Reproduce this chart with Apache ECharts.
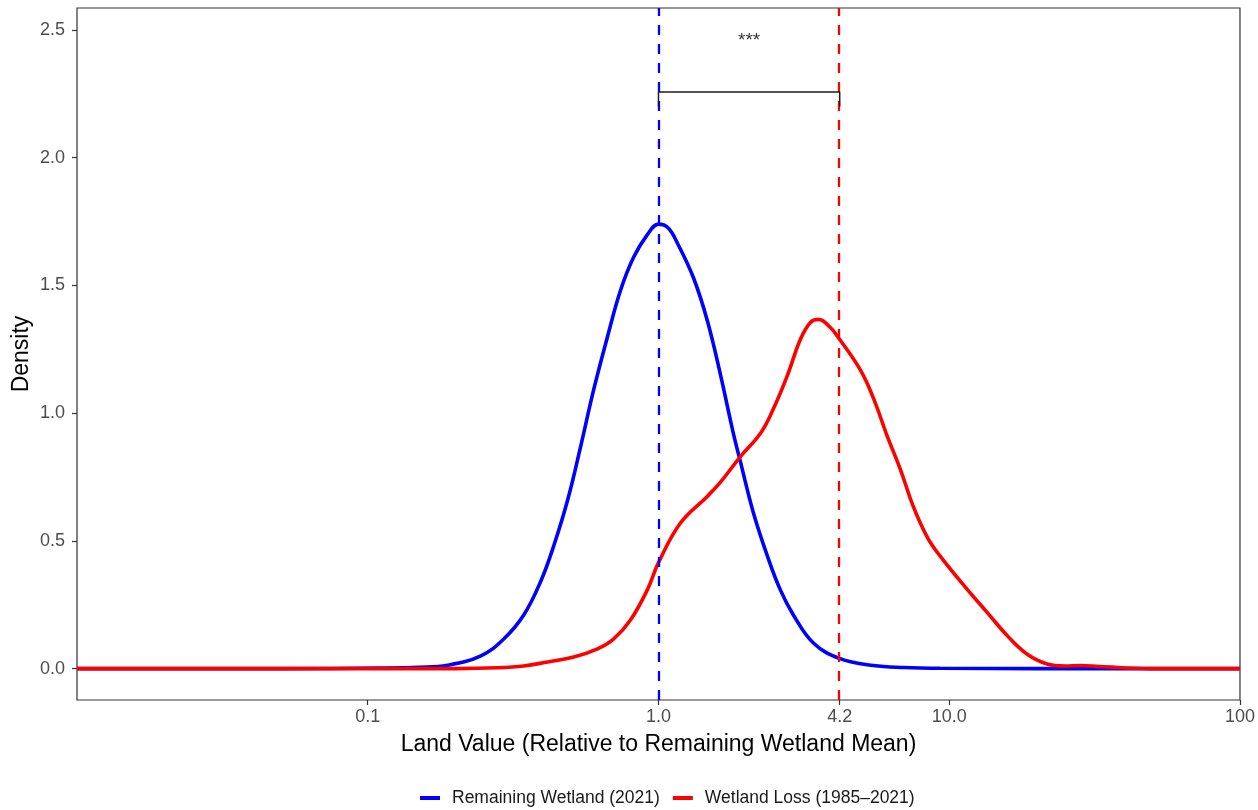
<!DOCTYPE html>
<html>
<head>
<meta charset="utf-8">
<title>Land value density</title>
<script src="https://cdn.jsdelivr.net/npm/echarts@6/dist/echarts.min.js"></script>
<style>
  html, body { margin: 0; padding: 0; background: #fff; }
  #densityChart { width: 1258px; height: 810px; }
</style>
</head>
<body>
<div id="densityChart"></div>
<script>
// land value relative to remaining wetland mean (x) and density (y)
const remainingX = [0.01, 0.05, 0.111, 0.15, 0.188, 0.245, 0.293, 0.344, 0.393, 0.436, 0.487, 0.54, 0.598, 0.668, 0.74, 0.821, 0.917, 1.0,
  1.08, 1.162, 1.319, 1.474, 1.634, 1.81, 1.913, 2.12, 2.37, 2.62, 2.91, 3.41, 4.19, 5.48, 7.0, 9.31, 20, 100]
const remainingY = [0, 0, 0.002, 0.005, 0.013, 0.05, 0.115, 0.21, 0.34, 0.48, 0.66, 0.87, 1.09, 1.3, 1.48, 1.61, 1.7, 1.74,
  1.725, 1.665, 1.53, 1.36, 1.15, 0.92, 0.81, 0.61, 0.44, 0.31, 0.21, 0.1, 0.04, 0.012, 0.004, 0.001, 0, 0]

const lossX = [0.01, 0.2, 0.28, 0.344, 0.416, 0.511, 0.617, 0.7, 0.801, 0.917, 1.0, 1.19, 1.474, 1.634, 1.913, 2.24, 2.48, 2.77,
  3.08, 3.33, 3.55, 3.9, 4.19, 4.94, 5.48, 6.12, 6.79, 7.52, 8.4, 9.31, 11.53, 13.5, 15.8, 18.5, 21.7, 25, 28.2, 33, 49, 100]
const lossY = [0, 0, 0.003, 0.01, 0.026, 0.045, 0.077, 0.115, 0.19, 0.31, 0.415, 0.57, 0.675, 0.73, 0.83, 0.92, 1.015, 1.145,
  1.29, 1.355, 1.367, 1.335, 1.29, 1.17, 1.06, 0.91, 0.78, 0.635, 0.515, 0.44, 0.31, 0.22, 0.13, 0.057, 0.018, 0.01, 0.012, 0.008, 0, 0]

// group means (dashed lines) and significance bracket
const meanRemaining = 1.0
const meanLoss = 4.2
const bracketX = [1.0, 1.0, 4.2, 4.2]
const bracketY = [2.2, 2.257, 2.257, 2.2]
const starX = 2.05
const starY = 2.458

const xTickValues = [0.1, 1.0, 4.2, 10, 100]
const xTickLabels = ['0.1', '1.0', '4.2', '10.0', '100']
const yTickValues = [0, 0.5, 1.0, 1.5, 2.0, 2.5]

const seriesNames = ['Remaining Wetland (2021)', 'Wetland Loss (1985\u20132021)']

const lg = v => Math.log10(v)
const pairs = (xs, ys) => xs.map((x, i) => [lg(x), ys[i]])

const FONT = '"Liberation Sans", Arial, Helvetica, sans-serif'

let myChart = echarts.init(document.getElementById('densityChart'))

let option = {
  animation: false,
  textStyle: { fontFamily: FONT },
  grid: {
    left: 77,
    right: 18,
    top: 8,
    bottom: 110,
    show: true,
    borderColor: '#333333',
    borderWidth: 1.2,
    backgroundColor: '#ffffff',
  },
  legend: {
    data: seriesNames,
    left: 420,
    bottom: 3,
    padding: 0,
    icon: 'rect',
    itemWidth: 20,
    itemHeight: 4,
    itemGap: 13,
    textStyle: { fontFamily: FONT, fontSize: 17.5, color: '#1a1a1a', padding: [0, 0, 0, 7] },
  },
  xAxis: {
    type: 'value',
    min: -2,
    max: 2,
    name: 'Land Value (Relative to Remaining Wetland Mean)',
    nameLocation: 'middle',
    nameGap: 33,
    nameMoveOverlap: false,
    nameTextStyle: { fontFamily: FONT, fontSize: 23, color: '#000000' },
    axisLine: { show: false, onZero: false },
    splitLine: { show: false },
    axisTick: {
      show: true,
      length: 5,
      customValues: xTickValues.map(lg),
      lineStyle: { color: '#333333', width: 1.2 },
    },
    axisLabel: {
      margin: 8,
      fontSize: 18,
      color: '#4d4d4d',
      fontFamily: FONT,
      customValues: xTickValues.map(lg),
      formatter: function (v) {
        let idx = xTickValues.findIndex(t => Math.abs(lg(t) - v) < 1e-6)
        return idx >= 0 ? xTickLabels[idx] : ''
      },
    },
  },
  yAxis: {
    type: 'value',
    min: -0.123,
    max: 2.586,
    name: 'Density',
    nameLocation: 'middle',
    nameGap: 44,
    nameMoveOverlap: false,
    nameTextStyle: { fontFamily: FONT, fontSize: 23, color: '#000000' },
    axisLine: { show: false, onZero: false },
    splitLine: { show: false },
    axisTick: {
      show: true,
      length: 5,
      customValues: yTickValues,
      lineStyle: { color: '#333333', width: 1.2 },
    },
    axisLabel: {
      margin: 12,
      fontSize: 18,
      color: '#4d4d4d',
      fontFamily: FONT,
      customValues: yTickValues,
      formatter: v => v.toFixed(1),
    },
  },
  series: [
    {
      name: seriesNames[0],
      type: 'line',
      data: pairs(remainingX, remainingY),
      smooth: 0.4,
      showSymbol: false,
      symbol: 'none',
      color: '#0000ff',
      lineStyle: { color: '#0000ff', width: 3.6 },
      markLine: {
        silent: true,
        symbol: 'none',
        label: { show: false },
        lineStyle: { color: '#0000ff', type: [10, 9], width: 2.3 },
        data: [{ xAxis: lg(meanRemaining) }],
      },
    },
    {
      name: seriesNames[1],
      type: 'line',
      data: pairs(lossX, lossY),
      smooth: 0.4,
      showSymbol: false,
      symbol: 'none',
      color: '#ff0000',
      lineStyle: { color: '#ff0000', width: 3.6 },
      markLine: {
        silent: true,
        symbol: 'none',
        label: { show: false },
        lineStyle: { color: '#ff0000', type: [10, 9], width: 2.3 },
        data: [{ xAxis: lg(meanLoss) }],
      },
    },
    {
      name: 'bracket',
      type: 'line',
      data: pairs(bracketX, bracketY),
      showSymbol: false,
      symbol: 'none',
      lineStyle: { color: '#1a1a1a', width: 1.5 },
      z: 5,
    },
    {
      name: 'stars',
      type: 'scatter',
      data: [[lg(starX), starY]],
      symbolSize: 1,
      itemStyle: { color: 'rgba(0,0,0,0)' },
      label: {
        show: true,
        position: 'inside',
        formatter: '***',
        fontFamily: FONT,
        fontSize: 19,
        color: '#000000',
      },
    },
  ],
}

myChart.setOption(option)
</script>
</body>
</html>
